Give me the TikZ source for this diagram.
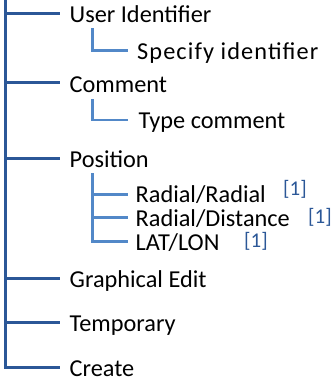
\documentclass[tikz,border=0pt]{standalone}
\usepackage{fontspec}
\setmainfont{Carlito}
\definecolor{maincol}{HTML}{2B5797}
\definecolor{subcol}{HTML}{5288C8}
\begin{document}
\begin{tikzpicture}[x=1pt,y=-1pt,
  mainline/.style={draw=maincol,line width=3pt},
  subline/.style={draw=subcol,line width=2.8pt},
  lbl/.style={anchor=base west,inner sep=0pt,font=\fontsize{24.3}{26}\selectfont,text=black},
  note/.style={anchor=west,inner sep=0pt,font=\fontsize{21}{23}\selectfont,text=maincol}]
\useasboundingbox (0,0) rectangle (333,384);
% main trunk
\coordinate (top) at (5.5,0);
\coordinate (c1) at (5.5,13.3);
\coordinate (c2) at (5.5,82.7);
\coordinate (c3) at (5.5,158);
\coordinate (c4) at (5.5,278);
\coordinate (c5) at (5.5,322);
\coordinate (c6) at (5.5,367);
\coordinate (e1) at (60,13.3);
\coordinate (e2) at (60,82.7);
\coordinate (e3) at (60,158);
\coordinate (e4) at (60,278);
\coordinate (e5) at (60,322);
\coordinate (e6) at (60,367);
\node[lbl] (n1) at (69.5,22.7) {User Identifier};
\node[lbl] (n2) at (69.5,92) {Comment};
\node[lbl] (n3) at (69.5,167) {Position};
\node[lbl] (n4) at (69.5,287) {Graphical Edit};
\node[lbl] (n5) at (69.5,331) {Temporary};
\node[lbl] (n6) at (69.5,376) {Create};
\draw[mainline] (top) -- (c6) -- (e6);
\foreach \i in {1,...,5} \draw[mainline] (c\i) -- (e\i);
% sub: specify
\coordinate (s1t) at (92.5,28);
\coordinate (s1b) at (92.5,50.7);
\coordinate (s1e) at (128,50.7);
\node[lbl] (m1) at (137,59) {\addfontfeature{LetterSpace=4.5}Specify identifier};
\draw[subline] (s1t) -- (s1b) -- (s1e);
% sub: type comment
\coordinate (s2t) at (92.5,99);
\coordinate (s2b) at (92.5,120);
\coordinate (s2e) at (128,120);
\node[lbl] (m2) at (138.5,128.5) {Type comment};
\draw[subline] (s2t) -- (s2b) -- (s2e);
% sub: position
\coordinate (s3t) at (92.5,173);
\coordinate (p1) at (92.5,194.3);
\coordinate (p2) at (92.5,217.7);
\coordinate (p3) at (92.5,241.7);
\coordinate (q1) at (128,194.3);
\coordinate (q2) at (128,217.7);
\coordinate (q3) at (128,241.7);
\node[lbl] (r1) at (135.5,202.7) {Radial/Radial};
\node[lbl] (r2) at (135.5,226.5) {Radial/Distance};
\node[lbl] (r3) at (135.5,250) {LAT/LON};
\node[note] (f1) at (283,189.5) {[1]};
\node[note] (f2) at (308,217) {[1]};
\node[note] (f3) at (244,241.5) {[1]};
\draw[subline] (s3t) -- (p3) -- (q3);
\draw[subline] (p1) -- (q1);
\draw[subline] (p2) -- (q2);
\end{tikzpicture}
\end{document}
